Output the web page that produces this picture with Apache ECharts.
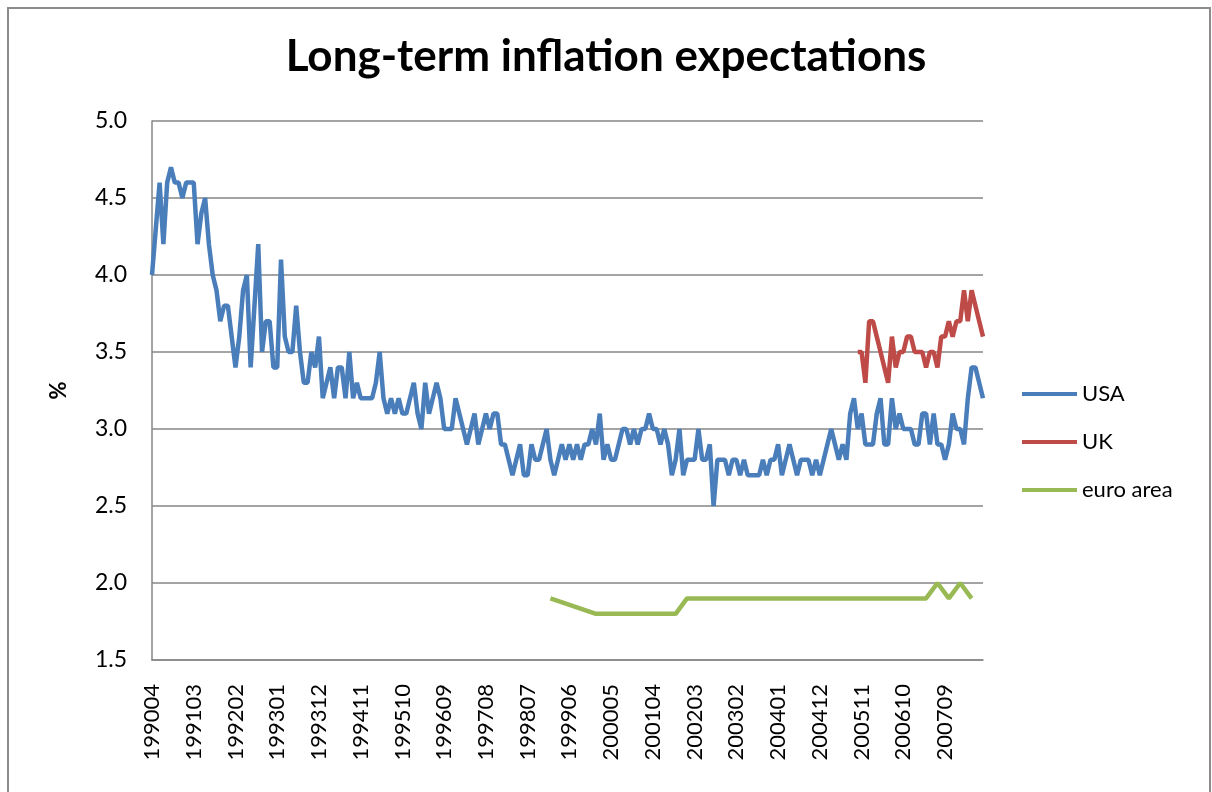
<!DOCTYPE html>
<html>
<head>
<meta charset="utf-8">
<title>Long-term inflation expectations</title>
<script src="https://cdn.jsdelivr.net/npm/echarts@6/dist/echarts.min.js"></script>
<style>
  html, body { margin: 0; padding: 0; background: #fff; }
  #chart { width: 1212px; height: 792px; }
</style>
</head>
<body>
<div id="chart"></div>
<script>
// monthly categories 199004 .. 200807
const firstMonth = [1990, 4];
const lastMonth = [2008, 7];
const months = [];
for (let y = firstMonth[0], m = firstMonth[1]; y < lastMonth[0] || (y === lastMonth[0] && m <= lastMonth[1]); m++) {
  if (m > 12) { m = 1; y++; }
  months.push(String(y) + String(m).padStart(2, '0'));
}

// USA, one value per month from 199004
const usa = [
  4.0, 4.3, 4.6, 4.2, 4.6, 4.7, 4.6, 4.6, 4.5, 4.6,
  4.6, 4.6, 4.2, 4.4, 4.5, 4.2, 4.0, 3.9, 3.7, 3.8,
  3.8, 3.6, 3.4, 3.6, 3.9, 4.0, 3.4, 3.8, 4.2, 3.5,
  3.7, 3.7, 3.4, 3.4, 4.1, 3.6, 3.5, 3.5, 3.8, 3.5,
  3.3, 3.3, 3.5, 3.4, 3.6, 3.2, 3.3, 3.4, 3.2, 3.4,
  3.4, 3.2, 3.5, 3.2, 3.3, 3.2, 3.2, 3.2, 3.2, 3.3,
  3.5, 3.2, 3.1, 3.2, 3.1, 3.2, 3.1, 3.1, 3.2, 3.3,
  3.1, 3.0, 3.3, 3.1, 3.2, 3.3, 3.2, 3.0, 3.0, 3.0,
  3.2, 3.1, 3.0, 2.9, 3.0, 3.1, 2.9, 3.0, 3.1, 3.0,
  3.1, 3.1, 2.9, 2.9, 2.8, 2.7, 2.8, 2.9, 2.7, 2.7,
  2.9, 2.8, 2.8, 2.9, 3.0, 2.8, 2.7, 2.8, 2.9, 2.8,
  2.9, 2.8, 2.9, 2.8, 2.9, 2.9, 3.0, 2.9, 3.1, 2.8,
  2.9, 2.8, 2.8, 2.9, 3.0, 3.0, 2.9, 3.0, 2.9, 3.0,
  3.0, 3.1, 3.0, 3.0, 2.9, 3.0, 2.9, 2.7, 2.8, 3.0,
  2.7, 2.8, 2.8, 2.8, 3.0, 2.8, 2.8, 2.9, 2.5, 2.8,
  2.8, 2.8, 2.7, 2.8, 2.8, 2.7, 2.8, 2.7, 2.7, 2.7,
  2.7, 2.8, 2.7, 2.8, 2.8, 2.9, 2.7, 2.8, 2.9, 2.8,
  2.7, 2.8, 2.8, 2.8, 2.7, 2.8, 2.7, 2.8, 2.9, 3.0,
  2.9, 2.8, 2.9, 2.8, 3.1, 3.2, 3.0, 3.1, 2.9, 2.9,
  2.9, 3.1, 3.2, 2.9, 2.9, 3.2, 3.0, 3.1, 3.0, 3.0,
  3.0, 2.9, 2.9, 3.1, 3.1, 2.9, 3.1, 2.9, 2.9, 2.8,
  2.9, 3.1, 3.0, 3.0, 2.9, 3.2, 3.4, 3.4, 3.3, 3.2
];

// UK starts in 200510
const ukStart = '200510';
const uk = [
  3.5, 3.5, 3.3, 3.7, 3.7, 3.6, 3.5, 3.4, 3.3, 3.6,
  3.4, 3.5, 3.5, 3.6, 3.6, 3.5, 3.5, 3.5, 3.4, 3.5,
  3.5, 3.4, 3.6, 3.6, 3.7, 3.6, 3.7, 3.7, 3.9, 3.7,
  3.9, 3.8, 3.7, 3.6
];

// euro area, survey months only (line joins them)
const euroMonths = [
  '199901', '200001', '200004', '200007', '200010', '200101', '200104', '200107',
  '200110', '200201', '200204', '200207', '200210', '200301', '200304', '200307',
  '200310', '200401', '200404', '200407', '200410', '200501', '200504', '200507',
  '200510', '200601', '200604', '200607', '200610', '200701', '200704', '200707',
  '200710', '200801', '200804'
];
const euro = [
  1.9, 1.8, 1.8, 1.8, 1.8, 1.8, 1.8, 1.8,
  1.8, 1.9, 1.9, 1.9, 1.9, 1.9, 1.9, 1.9,
  1.9, 1.9, 1.9, 1.9, 1.9, 1.9, 1.9, 1.9,
  1.9, 1.9, 1.9, 1.9, 1.9, 1.9, 1.9, 2.0,
  1.9, 2.0, 1.9
];

const seriesNames = ['USA', 'UK', 'euro area'];
const colors = ['#4a7ebb', '#be4b48', '#98b954'];

const ukOffset = months.indexOf(ukStart);
const ukData = months.map((m, i) => (i >= ukOffset ? uk[i - ukOffset] : null));
const euroData = months.map(m => {
  const k = euroMonths.indexOf(m);
  return k >= 0 ? euro[k] : null;
});

const font = 'Lato, "Open Sans", sans-serif';
const chart = echarts.init(document.getElementById('chart'));

const option = {
  backgroundColor: '#fff',
  animation: false,
  color: colors,
  title: {
    text: 'Long-term inflation expectations',
    left: 'center',
    top: 30,
    textStyle: { fontFamily: font, fontSize: 44, fontWeight: 'bold', color: '#000' }
  },
  graphic: [{
    type: 'rect',
    shape: { x: 8, y: 8, width: 1202, height: 800 },
    style: { fill: null, stroke: '#8c8c8c', lineWidth: 2 },
    silent: true
  }],
  legend: {
    data: seriesNames,
    orient: 'vertical',
    left: 1017,
    top: 377,
    icon: 'rect',
    itemWidth: 55,
    itemHeight: 4,
    itemGap: 24,
    textStyle: { fontFamily: font, fontSize: 22, color: '#000', lineHeight: 24, padding: [0, 0, 0, 0] }
  },
  grid: { left: 152, right: 229, top: 121, bottom: 132, containLabel: false },
  xAxis: {
    type: 'category',
    data: months,
    boundaryGap: false,
    axisLine: { lineStyle: { color: '#868686', width: 1.5 } },
    axisTick: { show: false },
    axisLabel: {
      interval: 10,
      rotate: 90,
      margin: 24,
      fontFamily: font,
      fontSize: 22,
      color: '#000'
    },
    splitLine: { show: false }
  },
  yAxis: {
    type: 'value',
    min: 1.5,
    max: 5.0,
    interval: 0.5,
    name: '%',
    nameLocation: 'middle',
    nameGap: 82,
    nameRotate: 90,
    nameTextStyle: { fontFamily: font, fontSize: 22, fontWeight: 'bold', color: '#000' },
    axisLine: { show: true, lineStyle: { color: '#868686', width: 1.5 } },
    axisTick: { show: false },
    axisLabel: {
      margin: 25,
      fontFamily: font,
      fontSize: 23,
      color: '#000',
      formatter: v => v.toFixed(1)
    },
    splitLine: { lineStyle: { color: '#868686', width: 1.5 } }
  },
  series: [
    { name: 'USA', type: 'line', data: usa, symbol: 'none', lineStyle: { width: 4.5 }, z: 3 },
    { name: 'UK', type: 'line', data: ukData, symbol: 'none', lineStyle: { width: 4.5 }, z: 2 },
    { name: 'euro area', type: 'line', data: euroData, connectNulls: true, symbol: 'none', lineStyle: { width: 4.5 }, z: 1 }
  ]
};

chart.setOption(option);
window.addEventListener('resize', () => chart.resize());
</script>
</body>
</html>
